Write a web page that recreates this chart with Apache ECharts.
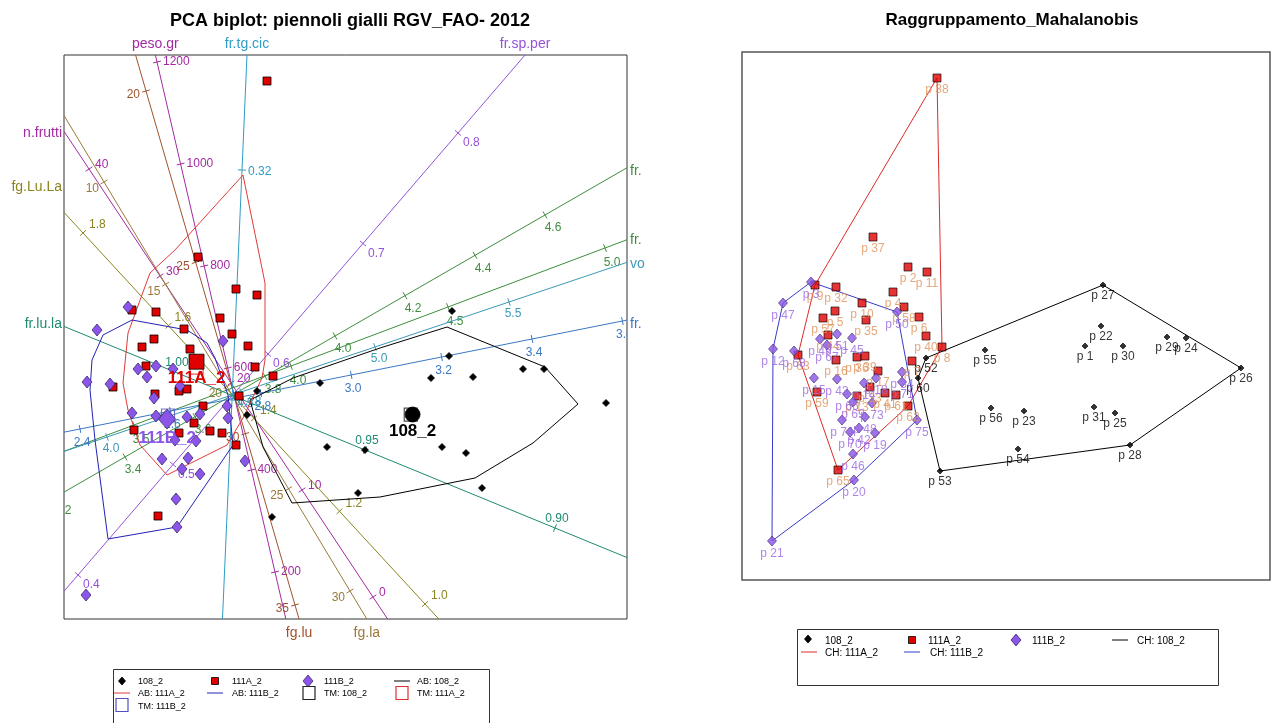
<!DOCTYPE html>
<html>
<head>
<meta charset="utf-8">
<script src="https://cdn.jsdelivr.net/npm/echarts@6/dist/echarts.min.js"></script>
<style>
html,body{margin:0;padding:0;background:#fff}
#chart{width:1272px;height:723px}
</style>
</head>
<body>
<div id="chart"></div>
<script>
// ---------------- PCA biplot: sample scores (PC1, PC2) ----------------
const groupNames = ['108_2', '111A_2', '111B_2'];

const scores108 = [[2.15,0.87],[2.12,0.42],[1.94,0.20],[2.36,0.21],[2.86,0.29],[3.07,0.29],[3.69,-0.05],[2.05,-0.49],[2.29,-0.55],[2.45,-0.90],[0.90,-0.49],[1.28,-0.52],[1.21,-0.95],[0.35,-1.19],[0.83,0.15],[0.20,0.07],[0.10,-0.17]];
const scores111A = [[0.30,3.17],[-0.39,1.41],[-0.01,1.09],[0.20,1.03],[-0.81,0.86],[-0.17,0.80],[-0.53,0.69],[-0.05,0.64],[-0.83,0.59],[0.11,0.52],[-0.95,0.51],[-0.47,0.49],[-0.91,0.32],[0.18,0.31],[0.36,0.22],[-1.24,0.11],[-1.05,0.88],[-0.58,0.07],[-0.50,0.09],[-0.82,0.04],[0.02,0.02],[-0.34,-0.08],[-0.43,-0.25],[-0.27,-0.33],[-0.15,-0.35],[-0.58,-0.35],[-1.03,-0.32],[-0.01,-0.47],[-0.79,-1.18]];
const scores111B = [[-1.09,0.91],[-1.40,0.68],[-0.14,0.57],[-0.99,0.29],[-0.81,0.32],[-0.64,0.29],[-0.90,0.21],[-1.50,0.16],[-1.27,0.14],[-0.57,0.12],[-0.83,0.00],[-0.10,-0.08],[-0.37,-0.16],[-0.09,-0.20],[-1.05,-0.15],[-0.50,-0.19],[-0.81,-0.18],[-0.62,-0.42],[-0.41,-0.43],[-0.75,-0.61],[-0.49,-0.60],[0.08,-0.63],[-0.37,-0.76],[-0.55,-0.71],[-0.61,-1.01],[-0.60,-1.29],[-1.51,-1.97]];

// alpha bags (outline vertices)
const bag108 = [[0.13,-0.02],[0.56,0.20],[1.43,0.50],[2.10,0.71],[3.08,0.31],[3.41,-0.06],[2.96,-0.45],[2.38,-0.80],[1.43,-0.99],[0.55,-1.05],[0.26,-0.49]];
const bag111A = [[0.06,2.23],[0.28,1.15],[0.28,0.38],[0.25,0.20],[0.06,-0.20],[-0.10,-0.47],[-0.70,-0.77],[-0.97,-0.47],[-1.09,-0.12],[-1.14,0.15],[-1.09,0.65],[-0.87,1.25],[-0.62,1.48]];
const bag111B = [[-1.34,0.63],[-1.05,0.78],[-0.50,0.68],[-0.30,0.55],[-0.22,0.40],[-0.09,0.03],[-0.04,-0.47],[-0.60,-1.29],[-1.29,-1.41],[-1.42,-0.42],[-1.47,0.08],[-1.45,0.38]];

// calibrated biplot axes: name, tick values, and two calibration points [value, PC1, PC2, value, PC1, PC2]
const axisNames = ['peso.gr','n.frutti','fg.la','fg.lu','fg.Lu.La','fr.tg.cic','fr.sp.per','fr.lu.la','fr.','fr.','vo','fr.'];
const axisTicks = [
  [200,400,600,800,1000,1200],
  [0,10,20,30,40],
  [10,15,20,25,30],
  [20,25,30,35],
  [1.0,1.2,1.4,1.6,1.8],
  [0.28,0.32],
  [0.4,0.5,0.6,0.7,0.8],
  [0.90,0.95,1.00],
  [3.2,3.4,3.6,3.8,4.0,4.2,4.4,4.6],
  [3.5,4.0,4.5,5.0],
  [4.0,4.5,5.0,5.5],
  [2.4,2.6,2.8,3.0,3.2,3.4,3.6]
];
const axisCalib = [
  [1200,-0.80,3.36, 200,0.38,-1.74],
  [40,-1.48,2.29, 0,1.36,-1.99],
  [10,-1.33,2.16, 30,1.13,-1.93],
  [20,-0.91,3.07, 35,0.58,-2.07],
  [1.8,-1.54,1.65, 1.0,1.88,-2.06],
  [0.32,0.05,2.28, 0.28,-0.05,-0.02],
  [0.8,2.21,2.65, 0.4,-1.59,-1.77],
  [1.00,-0.62,0.26, 0.90,3.18,-1.30],
  [4.6,3.08,1.83, 3.4,-1.12,-0.59],
  [5.0,3.68,1.50, 3.5,-1.03,-0.27],
  [5.5,2.72,0.96, 4.0,-1.30,-0.39],
  [3.4,2.95,0.59, 2.4,-1.57,-0.31]
];
const axisDecimals = [0,0,0,0,1,2,1,2,1,1,1,1];

// ---------------- Mahalanobis grouping: coordinates and ids ----------------
const maha108Ids = ['p 1','p 22','p 23','p 24','p 25','p 26','p 27','p 28','p 29','p 30','p 31','p 52','p 53','p 54','p 55','p 56','p 60'];
const maha108 = [[1.45,0.34],[1.61,0.54],[0.84,-0.31],[2.46,0.42],[1.75,-0.33],[3.01,0.12],[1.63,0.95],[1.90,-0.65],[2.27,0.43],[1.83,0.34],[1.54,-0.27],[-0.14,0.22],[0.00,-0.91],[0.78,-0.69],[0.45,0.30],[0.51,-0.28],[-0.22,0.02]];
const maha111AIds = ['p 38','p 37','p 2','p 11','p 4','p 9','p 32','p 10','p 58','p 6','p 5','p 57','p 35','p 40','p 8','p 44','p 63','p 36','p 39','p 16','p 7','p 17','p 33','p 59','p 41','p 61','p 13','p 62','p 65'];
const maha111A = [[-0.03,3.02],[-0.67,1.43],[-0.32,1.13],[-0.13,1.08],[-0.47,0.88],[-1.25,0.95],[-1.04,0.93],[-0.78,0.77],[-0.36,0.73],[-0.21,0.63],[-1.05,0.69],[-1.17,0.62],[-0.74,0.60],[-0.14,0.44],[0.02,0.33],[-1.12,0.45],[-1.42,0.25],[-0.83,0.23],[-0.75,0.24],[-1.04,0.20],[-0.28,0.19],[-0.62,0.09],[-0.70,-0.07],[-1.23,-0.12],[-0.55,-0.13],[-0.44,-0.15],[-0.83,-0.16],[-0.32,-0.26],[-1.02,-0.90]];
const maha111BIds = ['p 3','p 47','p 50','p 49','p 51','p 45','p 12','p 68','p 67','p 34','p 71','p 18','p 14','p 43','p 15','p 66','p 69','p 73','p 48','p 74','p 42','p 70','p 75','p 19','p 46','p 20','p 21'];
const maha111B = [[-1.29,0.98],[-1.57,0.77],[-0.43,0.68],[-1.20,0.41],[-1.03,0.46],[-0.88,0.42],[-1.67,0.31],[-1.46,0.29],[-1.13,0.35],[-0.38,0.08],[-0.38,-0.02],[-0.64,0.02],[-0.76,-0.03],[-1.03,0.01],[-1.26,0.02],[-0.93,-0.14],[-0.87,-0.22],[-0.68,-0.23],[-0.75,-0.37],[-0.98,-0.40],[-0.81,-0.48],[-0.90,-0.52],[-0.23,-0.40],[-0.65,-0.53],[-0.87,-0.74],[-0.86,-1.00],[-1.68,-1.61]];

// ---------------- styles ----------------
const FONT = '"Liberation Sans", Arial, Helvetica, sans-serif';
const axisColors = ['#a42aa4','#a42aa4','#9a7a3a','#a0522d','#8a8420','#2f9cc4','#9352d8','#1f8a72','#3e8e3e','#3e8e3e','#3b9ab8','#3a78c4'];
// tick label offset [dx, dy, align]
const axisLabelOffset = [
  [6,0,'left'],[6,-4,'left'],[-5,7,'right'],[-6,4,'right'],[6,-8,'left'],[6,2,'left'],
  [5,10,'left'],[2,-9,'center'],[8,13,'center'],[7,15,'center'],[4,12,'center'],[2,14,'center']
];
const axisNameNudge = [0,2,0,0,-25,0,0,-2,3,0,2,4];

// ---------------- helpers ----------------
function mean(pts) {
  const n = pts.length;
  return [pts.reduce((s,p)=>s+p[0],0)/n, pts.reduce((s,p)=>s+p[1],0)/n];
}
function trimmedMean(pts, frac) {
  const k = Math.floor(pts.length * frac);
  const tm = d => {
    const v = pts.map(p=>p[d]).sort((a,b)=>a-b).slice(k, pts.length - k);
    return v.reduce((s,x)=>s+x,0)/v.length;
  };
  return [tm(0), tm(1)];
}
function convexHull(pts) {
  const p = pts.slice().sort((a,b)=>a[0]-b[0] || a[1]-b[1]);
  const cross = (o,a,b)=>(a[0]-o[0])*(b[1]-o[1])-(a[1]-o[1])*(b[0]-o[0]);
  const lower = [], upper = [];
  for (const q of p) { while (lower.length>=2 && cross(lower[lower.length-2],lower[lower.length-1],q)<=0) lower.pop(); lower.push(q); }
  for (let i=p.length-1;i>=0;i--) { const q=p[i]; while (upper.length>=2 && cross(upper[upper.length-2],upper[upper.length-1],q)<=0) upper.pop(); upper.push(q); }
  upper.pop(); lower.pop();
  return lower.concat(upper);
}
const closeRing = pts => pts.concat([pts[0]]);

function axisGeometry(i, api) {
  const c = axisCalib[i];
  const p1 = api.coord([c[1], c[2]]), p2 = api.coord([c[4], c[5]]);
  const v1 = c[0], v2 = c[3];
  const at = v => { const t = (v - v1) / (v2 - v1); return [p1[0] + t*(p2[0]-p1[0]), p1[1] + t*(p2[1]-p1[1])]; };
  let dx = p2[0]-p1[0], dy = p2[1]-p1[1];
  if (v2 < v1) { dx = -dx; dy = -dy; }
  const L = Math.hypot(dx, dy);
  return { at, p1, ux: dx/L, uy: dy/L };
}
function clipRange(p, ux, uy, r) {
  let t0 = -1e9, t1 = 1e9;
  [[p[0], ux, r.x, r.x + r.width], [p[1], uy, r.y, r.y + r.height]].forEach(([o,u,lo,hi]) => {
    if (Math.abs(u) < 1e-9) return;
    const a = (lo - o)/u, b = (hi - o)/u;
    t0 = Math.max(t0, Math.min(a,b)); t1 = Math.min(t1, Math.max(a,b));
  });
  return [t0, t1];
}

function renderAxis(params, api) {
  const i = api.value(0);
  const r = params.coordSys;
  const g = axisGeometry(i, api);
  const [t0, t1] = clipRange(g.p1, g.ux, g.uy, r);
  const color = axisColors[i];
  const children = [{
    type: 'line',
    shape: {x1: g.p1[0]+t0*g.ux, y1: g.p1[1]+t0*g.uy, x2: g.p1[0]+t1*g.ux, y2: g.p1[1]+t1*g.uy},
    style: {stroke: color, lineWidth: 1}
  }];
  const off = axisLabelOffset[i];
  axisTicks[i].forEach(v => {
    const [x, y] = g.at(v);
    if (x < r.x - 16 || x > r.x + r.width + 16 || y < r.y - 16 || y > r.y + r.height + 16) return;
    children.push({type:'line', shape:{x1: x - 4*g.uy, y1: y + 4*g.ux, x2: x + 4*g.uy, y2: y - 4*g.ux}, style:{stroke: color, lineWidth: 1}});
    children.push({type:'text', x: x + off[0], y: y + off[1],
      style:{text: v.toFixed(axisDecimals[i]), fill: color, font: '12px ' + FONT, align: off[2], verticalAlign: 'middle'}});
  });
  return {type: 'group', children};
}
function renderAxisName(params, api) {
  const i = api.value(0);
  const r = params.coordSys;
  const g = axisGeometry(i, api);
  const t1 = clipRange(g.p1, g.ux, g.uy, r)[1];
  const ex = g.p1[0] + t1*g.ux, ey = g.p1[1] + t1*g.uy;
  let x = ex, y = ey, align = 'center';
  if (Math.abs(ey - r.y) < 0.5) y = r.y - 11;
  else if (Math.abs(ey - (r.y + r.height)) < 0.5) y = r.y + r.height + 14;
  else if (Math.abs(ex - r.x) < 0.5) { x = r.x - 2; align = 'right'; y = ey + axisNameNudge[i]; }
  else { x = r.x + r.width + 3; align = 'left'; y = ey + axisNameNudge[i]; }
  return {type:'text', x, y, style:{text: axisNames[i], fill: axisColors[i], font: '14px ' + FONT, align, verticalAlign:'middle'}};
}

// ---------------- series ----------------
const axisItems = axisNames.map((n, i) => [i, 0]);
const biplotGroups = [
  {name:'108_2', pts: scores108, bag: bag108, sym:'diamond', size:7, color:'#000', fill:'#000', border:'#000', bagColor:'#000000', tmColor:'#222', meanSym:'circle', meanSize:15},
  {name:'111A_2', pts: scores111A, bag: bag111A, sym:'rect', size:8, color:'#e00000', fill:'#e00000', border:'#000', bagColor:'#e03a3a', tmColor:'#e03030', meanSym:'rect', meanSize:15},
  {name:'111B_2', pts: scores111B, bag: bag111B, sym:'diamond', size:[10,12], color:'#8a55e8', fill:'#8a55e8', border:'#3b2a6a', bagColor:'#2222b8', tmColor:'#5050c0', meanSym:'diamond', meanSize:[17,20]}
];

const series = [
  {type:'custom', xAxisIndex:0, yAxisIndex:0, data: axisItems, renderItem: renderAxis, clip: true, silent: true, z: 1},
  {type:'custom', xAxisIndex:0, yAxisIndex:0, data: axisItems, renderItem: renderAxisName, clip: false, silent: true, z: 1}
];
biplotGroups.forEach(gr => {
  series.push({type:'line', xAxisIndex:0, yAxisIndex:0, data: closeRing(gr.bag), symbol:'none', smooth:false,
    lineStyle:{color: gr.bagColor, width:1}, z:2, silent:true});
});
biplotGroups.forEach(gr => {
  series.push({type:'scatter', xAxisIndex:0, yAxisIndex:0, data: gr.pts, symbol: gr.sym, symbolSize: gr.size,
    itemStyle:{color: gr.fill, borderColor: gr.border, borderWidth: 0.8, opacity: 1}, z:3, silent:true});
});
biplotGroups.forEach(gr => {
  series.push({type:'scatter', xAxisIndex:0, yAxisIndex:0, data:[trimmedMean(gr.pts, 0.1)], symbol:'rect', symbolSize:13,
    itemStyle:{color:'rgba(0,0,0,0)', borderColor: gr.tmColor, borderWidth:1.2}, z:4, silent:true});
});
biplotGroups.forEach(gr => {
  series.push({type:'scatter', xAxisIndex:0, yAxisIndex:0, data:[{name: gr.name, value: mean(gr.pts)}], symbol: gr.meanSym, symbolSize: gr.meanSize,
    itemStyle:{color: gr.fill, borderColor: gr.border, borderWidth: 0.8, opacity: 1},
    label:{show:true, position:'bottom', distance:0, formatter:'{b}', color: gr.color, fontSize:17, fontWeight:'bold', fontFamily: FONT},
    z:5, silent:true});
});

const mahaGroups = [
  {name:'108_2', ids: maha108Ids, pts: maha108, sym:'diamond', size:6, color:'#000', border:'#000', labelColor:'#000', hull:'#000'},
  {name:'111A_2', ids: maha111AIds, pts: maha111A, sym:'rect', size:8, color:'#e00000', border:'#000', labelColor:'#e0925a', hull:'#dd2a2a'},
  {name:'111B_2', ids: maha111BIds, pts: maha111B, sym:'diamond', size:[9,10], color:'#8a55e8', border:'#3b2a6a', labelColor:'#9a66e0', hull:'#3a3ac8'}
];
mahaGroups.forEach(gr => {
  series.push({type:'line', xAxisIndex:1, yAxisIndex:1, data: closeRing(convexHull(gr.pts)), symbol:'none',
    lineStyle:{color: gr.hull, width:1}, z:2, silent:true});
});
mahaGroups.forEach(gr => {
  series.push({type:'scatter', xAxisIndex:1, yAxisIndex:1,
    data: gr.pts.map((p, k) => ({name: gr.ids[k], value: p})),
    symbol: gr.sym, symbolSize: gr.size,
    itemStyle:{color: gr.color, borderColor: gr.border, borderWidth: 0.8},
    label:{show:true, position:'bottom', distance:1, formatter:'{b}', color: gr.labelColor, fontSize:12, fontFamily: FONT},
    labelLayout:{hideOverlap:false},
    z:3, silent:true});
});

// ---------------- legends ----------------
function legendMark(kind, x, y, color, border) {
  if (kind === 'diamond') return {type:'polygon', shape:{points:[[x,y-4],[x+3.5,y],[x,y+4],[x-3.5,y]]}, style:{fill:color, stroke:border, lineWidth:0.8}};
  if (kind === 'bigdiamond') return {type:'polygon', shape:{points:[[x,y-6],[x+5,y],[x,y+6],[x-5,y]]}, style:{fill:color, stroke:border, lineWidth:0.8}};
  if (kind === 'square') return {type:'rect', shape:{x:x-3.5, y:y-3.5, width:7, height:7}, style:{fill:color, stroke:border, lineWidth:0.8}};
  if (kind === 'line') return {type:'line', shape:{x1:x-8, y1:y, x2:x+8, y2:y}, style:{stroke:color, lineWidth:1}};
  if (kind === 'box') return {type:'rect', shape:{x:x-6, y:y-6.5, width:12, height:13}, style:{fill:'none', stroke:color, lineWidth:1.2}};
}
function legendText(text, x, y, size) {
  return {type:'text', x, y, style:{text, fill:'#000', font: size + 'px ' + FONT, align:'left', verticalAlign:'middle'}};
}
const leftLegend = [
  ['diamond',122,681,'#000','#000','108_2',138,682],
  ['square',215,681,'#e00000','#000','111A_2',232,682],
  ['bigdiamond',308,681,'#8a55e8','#3b2a6a','111B_2',324,682],
  ['line',402,681,'#000','#000','AB: 108_2',417,682],
  ['line',122,693,'#e03a3a','','AB: 111A_2',138,694],
  ['line',215,693,'#2222b8','','AB: 111B_2',232,694],
  ['box',309,693,'#222','','TM: 108_2',324,694],
  ['box',402,693,'#e03030','','TM: 111A_2',417,694],
  ['box',122,705,'#5050c0','','TM: 111B_2',138,707]
];
const rightLegend = [
  ['diamond',808,639,'#000','#000','108_2',825,641],
  ['square',912,640,'#e00000','#000','111A_2',928,641],
  ['bigdiamond',1016,640,'#8a55e8','#3b2a6a','111B_2',1032,641],
  ['line',1120,640,'#000','','CH: 108_2',1137,641],
  ['line',809,652,'#dd2a2a','','CH: 111A_2',825,653],
  ['line',912,652,'#3a3ac8','','CH: 111B_2',930,653]
];
const graphic = [
  {type:'rect', shape:{x:113.5, y:669.5, width:376, height:70}, style:{fill:'#fff', stroke:'#333', lineWidth:1}},
  {type:'rect', shape:{x:797.5, y:629.5, width:421, height:56}, style:{fill:'#fff', stroke:'#333', lineWidth:1}}
];
leftLegend.forEach(e => { graphic.push(legendMark(e[0], e[1], e[2], e[3], e[4])); graphic.push(legendText(e[5], e[6], e[7], 9)); });
rightLegend.forEach(e => { graphic.push(legendMark(e[0], e[1], e[2], e[3], e[4])); graphic.push(legendText(e[5], e[6], e[7], 10)); });

// ---------------- chart ----------------
const chart = echarts.init(document.getElementById('chart'), null, {renderer:'canvas'});
chart.setOption({
  animation: false,
  backgroundColor: '#fff',
  title: [
    {text:'PCA biplot: piennoli gialli RGV_FAO- 2012', left: 345, top: 7, textAlign:'center',
     textStyle:{fontSize:18, fontWeight:'bold', color:'#000', fontFamily: FONT}},
    {text:'Raggruppamento_Mahalanobis', left: 1007, top: 7, textAlign:'center',
     textStyle:{fontSize:17, fontWeight:'bold', color:'#000', fontFamily: FONT}}
  ],
  grid: [
    {left: 64, top: 55, width: 563, height: 564, show: true, borderColor:'#333', borderWidth: 1, backgroundColor:'#fff'},
    {left: 742, top: 52, width: 528, height: 528, show: true, borderColor:'#555', borderWidth: 1.5, backgroundColor:'#fff'}
  ],
  xAxis: [
    {type:'value', gridIndex:0, min:-1.73, max:3.90, show:false},
    {type:'value', gridIndex:1, min:-1.98, max:3.30, show:false}
  ],
  yAxis: [
    {type:'value', gridIndex:0, min:-2.21, max:3.43, show:false},
    {type:'value', gridIndex:1, min:-2.00, max:3.28, show:false}
  ],
  tooltip: {show:false},
  graphic,
  series
});
</script>
</body>
</html>
